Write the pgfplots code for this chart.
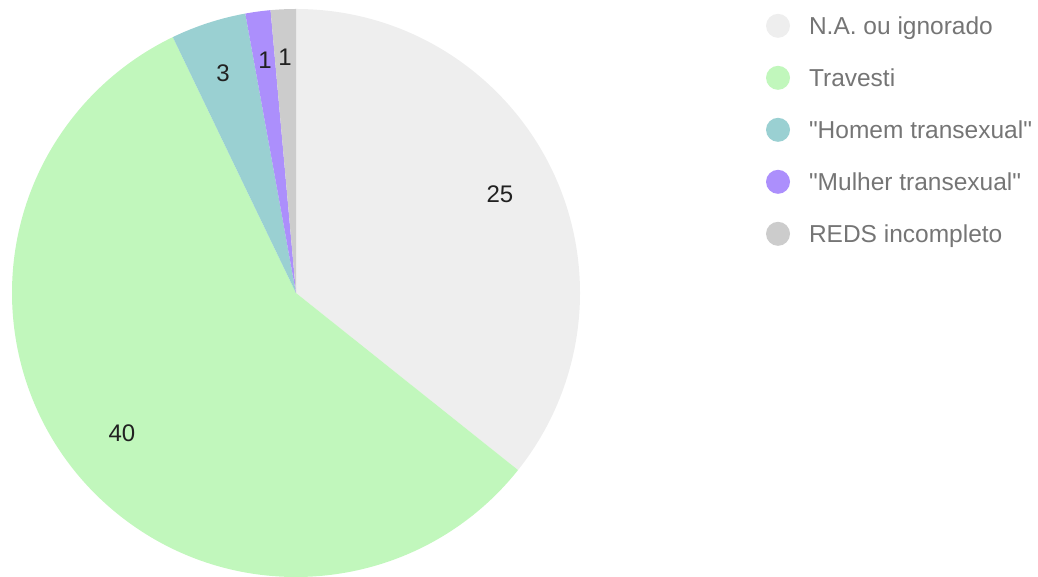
\documentclass[border=0pt]{standalone}
\usepackage{pgfplots}
\pgfplotsset{compat=1.18}
\usepackage{fontspec}
\setmainfont{Liberation Sans}[Ligatures=TeXOff]

\definecolor{cNA}{HTML}{EEEEEE}
\definecolor{cTrav}{HTML}{C1F7BC}
\definecolor{cHom}{HTML}{9AD0D2}
\definecolor{cMul}{HTML}{AC8FFC}
\definecolor{cReds}{HTML}{CCCCCC}
\definecolor{legtext}{HTML}{757575}
\definecolor{labtext}{HTML}{212121}

\begin{document}
\begin{tikzpicture}
\path[use as bounding box] (0,0) rectangle (1038pt,577pt);
\begin{axis}[
  at={(296pt,284pt)}, anchor=center,
  width=568pt, height=568pt, scale only axis,
  xmin=-1, xmax=1, ymin=-1, ymax=1,
  hide axis, clip=false,
  legend cell align=left,
  legend style={
    at={(1.3275,0.9915)}, anchor=north west,
    draw=none, fill=none, inner sep=0pt, outer sep=0pt,
    row sep=25pt, column sep=19pt,
    font=\fontsize{24.5}{28}\selectfont, text=legtext,
    nodes={inner sep=0pt, text height=18pt, text depth=6pt},
  },
  legend image code/.code={\fill[#1] (12pt,3pt) circle[radius=12pt];},
]
% slices, clockwise from 12 o'clock, total = 70
\pgfplotsextra{
  \xdef\startang{90}
  \foreach \v/\c in {25/cNA, 40/cTrav, 3/cHom, 1/cMul, 1/cReds}{
    \pgfmathsetmacro{\endang}{\startang-\v*360/70}
    \fill[\c] (axis cs:0,0) -- ++(\startang:284pt)
      arc[start angle=\startang, end angle=\endang, radius=284pt] -- cycle;
    \xdef\startang{\endang}
  }
}
\begin{scope}[every node/.style={font=\fontsize{24}{28}\selectfont, text=labtext}]
\node at (axis cs:0.718,0.349) {25};
\node at (axis cs:-0.613,-0.493) {40};
\node at (axis cs:-0.257,0.775) {3};
\node at (axis cs:-0.109,0.820) {1};
\node at (axis cs:-0.039,0.831) {1};
\end{scope}
\addlegendimage{fill=cNA, draw=none}
\addlegendentry{N.A. ou ignorado}
\addlegendimage{fill=cTrav, draw=none}
\addlegendentry{Travesti}
\addlegendimage{fill=cHom, draw=none}
\addlegendentry{"Homem transexual"}
\addlegendimage{fill=cMul, draw=none}
\addlegendentry{"Mulher transexual"}
\addlegendimage{fill=cReds, draw=none}
\addlegendentry{REDS incompleto}
\end{axis}
\end{tikzpicture}
\end{document}
